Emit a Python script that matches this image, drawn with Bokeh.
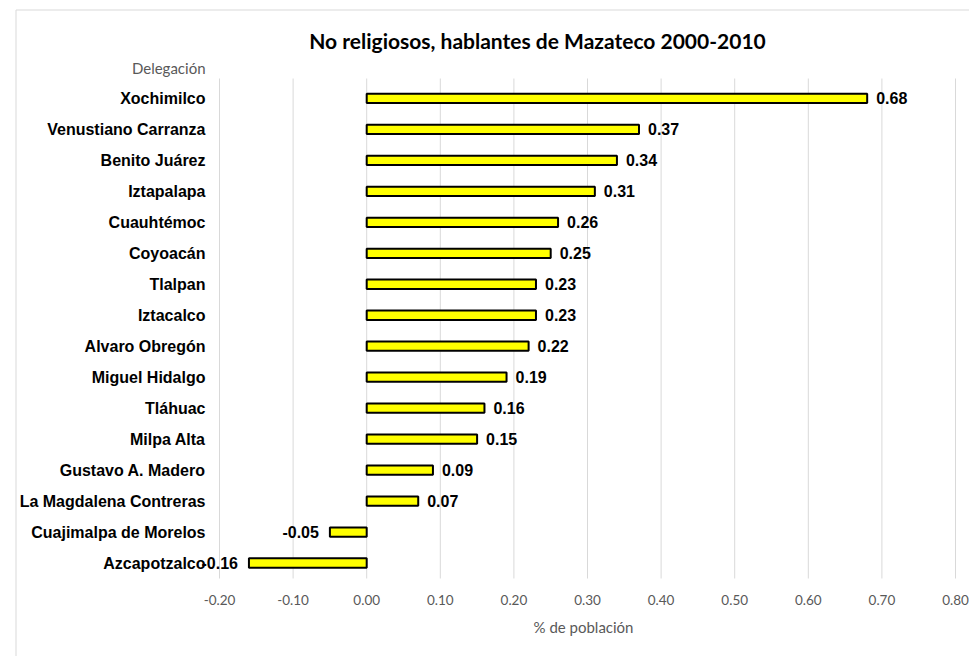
from bokeh.plotting import figure
from bokeh.models import ColumnDataSource, Range1d
from bokeh.core.properties import value
from bokeh.embed import file_html
from bokeh.resources import INLINE

# ---- data ----
categories = ["Xochimilco", "Venustiano Carranza", "Benito Juárez", "Iztapalapa",
              "Cuauhtémoc", "Coyoacán", "Tlalpan", "Iztacalco", "Alvaro Obregón",
              "Miguel Hidalgo", "Tláhuac", "Milpa Alta", "Gustavo A. Madero",
              "La Magdalena Contreras", "Cuajimalpa de Morelos", "Azcapotzalco"]
values = [0.68, 0.37, 0.34, 0.31, 0.26, 0.25, 0.23, 0.23, 0.22, 0.19,
          0.16, 0.15, 0.09, 0.07, -0.05, -0.16]
x_ticks = [-0.2, -0.1, 0.0, 0.1, 0.2, 0.3, 0.4, 0.5, 0.6, 0.7, 0.8]
title_text = "No religiosos, hablantes de Mazateco 2000-2010"
y_title = "Delegación"
x_title = "% de población"

# ---- layout (pixels) ----
W, H = 969, 656
X_LEFT_PX, X_RIGHT_PX = 219, 955          # plot area left/right (-0.2 .. 0.8)
X_MIN, X_MAX = x_ticks[0], x_ticks[-1]
PXU = (X_RIGHT_PX - X_LEFT_PX) / (X_MAX - X_MIN)
ROW0_PX, ROW_PX = 562.5, 30.97             # centre of bottom row, row pitch
PLOT_TOP_PX, PLOT_BOT_PX = 78, 578


def fx(px):
    return X_MIN + (px - X_LEFT_PX) / PXU


def fy(py):
    return (ROW0_PX - py) / ROW_PX


n = len(categories)
pos = [n - 1 - i for i in range(n)]
labels = [f"{v:.2f}" for v in values]

src_all = ColumnDataSource(dict(y=pos, v=values, name=categories))
src_pos = ColumnDataSource(dict(y=[p_ for p_, v in zip(pos, values) if v >= 0],
                                v=[v for v in values if v >= 0],
                                lab=[l for l, v in zip(labels, values) if v >= 0]))
src_neg = ColumnDataSource(dict(y=[p_ for p_, v in zip(pos, values) if v < 0],
                                v=[v for v in values if v < 0],
                                lab=[l for l, v in zip(labels, values) if v < 0]))
src_ticks = ColumnDataSource(dict(x=x_ticks, lab=[f"{t:.2f}" for t in x_ticks]))

p = figure(width=W, height=H, output_backend="svg", toolbar_location=None,
           x_range=Range1d(fx(0), fx(W)), y_range=Range1d(fy(H), fy(0)),
           min_border=0)
p.axis.visible = False
p.grid.visible = False
p.outline_line_color = None
p.background_fill_color = "white"
p.border_fill_color = "white"

# chart border (top and left edges visible in the window)
p.line(x=[fx(15.5), fx(15.5), fx(W + 10)], y=[fy(H + 10), fy(9.5), fy(9.5)],
       line_color="#d9d9d9", line_width=1)

# vertical gridlines
p.segment(x0="x", x1="x", y0=fy(PLOT_BOT_PX), y1=fy(PLOT_TOP_PX), source=src_ticks,
          line_color="#d9d9d9", line_width=1)

# bars
p.hbar(y="y", left=0, right="v", height=0.3, source=src_all,
       fill_color="#FFFF00", line_color="black", line_width=2)

# value labels
common = dict(text_baseline="middle", text_font=value("Liberation Sans"),
              text_font_style="bold", text_font_size="16px", text_color="black")
p.text(x="v", y="y", text="lab", source=src_pos, x_offset=9, text_align="left", **common)
p.text(x="v", y="y", text="lab", source=src_neg, x_offset=-11, text_align="right", **common)

# category labels
p.text(x=fx(205), y="y", text="name", source=src_all, text_align="right", **common)

# x tick labels
p.text(x="x", y=fy(599), text="lab", source=src_ticks, text_align="center",
       text_baseline="middle", text_font=value("Lato"), text_font_size="13.5px",
       text_color="#595959")

# axis titles
p.text(x=[fx(583)], y=[fy(626)], text=[x_title], text_align="center",
       text_baseline="middle", text_font=value("Lato"), text_font_size="15px",
       text_color="#595959")
p.text(x=[fx(205)], y=[fy(67)], text=[y_title], text_align="right",
       text_baseline="middle", text_font=value("Lato"), text_font_size="15px",
       text_color="#595959")

# chart title
p.text(x=[fx(537)], y=[fy(40)], text=[title_text], text_align="center",
       text_baseline="middle", text_font=value("Lato"), text_font_style="bold",
       text_font_size="21px", text_color="black")

open("out.html", "w").write(file_html(p, INLINE))
